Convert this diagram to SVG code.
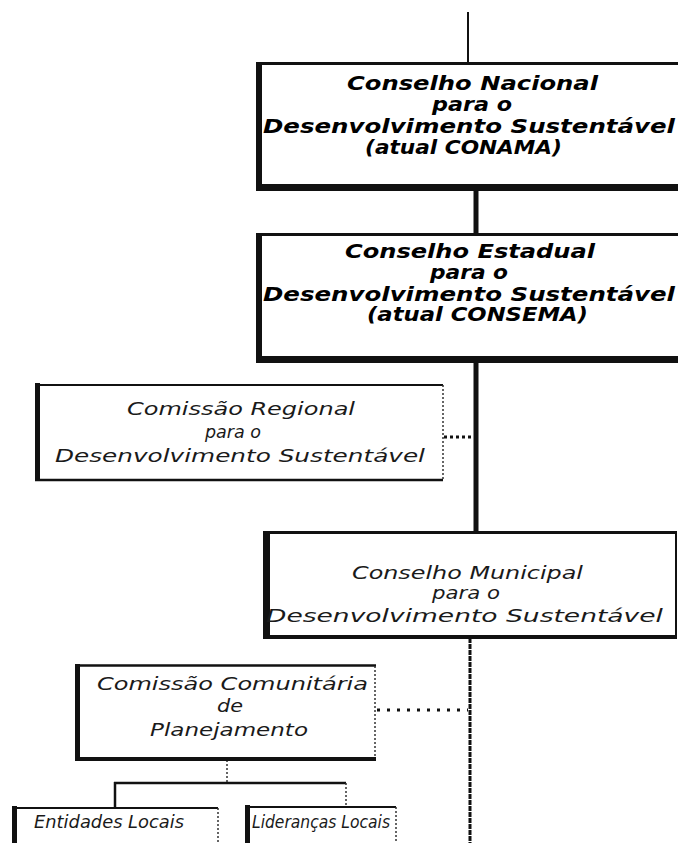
<svg xmlns="http://www.w3.org/2000/svg" width="678" height="843" viewBox="0 0 678 843">
<style>
.bg{fill:#fff}
.bd{fill:#111}
.t1{font-family:"DejaVu Sans","Liberation Sans",sans-serif;font-style:italic;font-weight:bold;font-size:19px;fill:#000}
.t2{font-family:"DejaVu Sans","Liberation Sans",sans-serif;font-style:italic;font-size:17px;fill:#1a1a1a}
.ln{stroke:#111;fill:none}
.dash{stroke:#333;fill:none;stroke-dasharray:2 2}
</style>
<rect x="0" y="0" width="678" height="843" fill="#fff"/>
<g id="connectors">
<line class="ln" x1="468" y1="12" x2="468" y2="63" stroke-width="2"/>
<line class="ln" x1="476" y1="190" x2="476" y2="234" stroke-width="5"/>
<line class="ln" x1="476" y1="362" x2="476" y2="532" stroke-width="5"/>
<line class="ln" x1="444" y1="437" x2="474" y2="437" stroke-width="3" stroke-dasharray="3 3"/>
<line class="ln" x1="470" y1="638" x2="470" y2="843" stroke-width="3" stroke-dasharray="5 1"/>
<line class="ln" x1="377" y1="710" x2="468" y2="710" stroke-width="3" stroke-dasharray="3 7"/>
<line class="dash" x1="227" y1="760" x2="227" y2="783" stroke-width="1.5"/>
<line class="ln" x1="114" y1="783" x2="346" y2="783" stroke-width="2.5"/>
<line class="ln" x1="115" y1="782" x2="115" y2="807" stroke-width="2.5"/>
<line class="dash" x1="346" y1="783" x2="346" y2="807" stroke-width="1.5"/>
</g>
<g id="nacional">
<rect class="bd" x="256" y="62" width="440" height="129"/>
<rect class="bg" x="262" y="65" width="434" height="119"/>
<text class="t1" x="347" y="90" textLength="251" lengthAdjust="spacingAndGlyphs">Conselho Nacional</text>
<text class="t1" x="432" y="111" textLength="80" lengthAdjust="spacingAndGlyphs">para o</text>
<text class="t1" x="263" y="133" textLength="412" lengthAdjust="spacingAndGlyphs">Desenvolvimento Sustentável</text>
<text class="t1" x="365" y="154" textLength="197" lengthAdjust="spacingAndGlyphs">(atual CONAMA)</text>
</g>
<g id="estadual">
<rect class="bd" x="256" y="233" width="440" height="130"/>
<rect class="bg" x="262" y="236" width="434" height="120"/>
<text class="t1" x="345" y="258" textLength="250" lengthAdjust="spacingAndGlyphs">Conselho Estadual</text>
<text class="t1" x="430" y="279" textLength="78" lengthAdjust="spacingAndGlyphs">para o</text>
<text class="t1" x="263" y="301" textLength="412" lengthAdjust="spacingAndGlyphs">Desenvolvimento Sustentável</text>
<text class="t1" x="367" y="321" textLength="221" lengthAdjust="spacingAndGlyphs">(atual CONSEMA)</text>
</g>
<g id="regional">
<rect class="bg" x="38" y="385" width="405" height="93"/>
<line class="ln" x1="35" y1="385" x2="443" y2="385" stroke-width="2"/>
<line class="ln" x1="37.5" y1="383" x2="37.5" y2="481" stroke-width="5"/>
<line class="ln" x1="35" y1="480" x2="443" y2="480" stroke-width="2.5"/>
<line class="dash" x1="443" y1="385" x2="443" y2="479" stroke-width="1.5"/>
<text class="t2" x="127" y="415" textLength="228" lengthAdjust="spacingAndGlyphs">Comissão Regional</text>
<text class="t2" x="205" y="438" textLength="56" lengthAdjust="spacingAndGlyphs">para o</text>
<text class="t2" x="55" y="462" textLength="370" lengthAdjust="spacingAndGlyphs">Desenvolvimento Sustentável</text>
</g>
<g id="municipal">
<rect class="bd" x="263" y="531" width="414" height="108"/>
<rect class="bg" x="270" y="534" width="405" height="101"/>
<text class="t2" x="352" y="579" font-size="16" textLength="231" lengthAdjust="spacingAndGlyphs">Conselho Municipal</text>
<text class="t2" x="432" y="599" font-size="16" textLength="68" lengthAdjust="spacingAndGlyphs">para o</text>
<text class="t2" x="266" y="622" font-size="16" textLength="397" lengthAdjust="spacingAndGlyphs">Desenvolvimento Sustentável</text>
</g>
<g id="comunitaria">
<rect class="bg" x="78" y="665" width="297" height="93"/>
<line class="ln" x1="75" y1="665.5" x2="376" y2="665.5" stroke-width="2.5"/>
<line class="ln" x1="77.5" y1="664" x2="77.5" y2="761" stroke-width="5"/>
<line class="ln" x1="75" y1="759" x2="376" y2="759" stroke-width="4"/>
<line class="dash" x1="375" y1="666" x2="375" y2="757" stroke-width="1.5"/>
<text class="t2" x="97" y="690" font-size="19" textLength="271" lengthAdjust="spacingAndGlyphs">Comissão Comunitária</text>
<text class="t2" x="217" y="712" font-size="19" textLength="26" lengthAdjust="spacingAndGlyphs">de</text>
<text class="t2" x="150" y="736" font-size="19" textLength="158" lengthAdjust="spacingAndGlyphs">Planejamento</text>
</g>
<g id="entidades">
<line class="ln" x1="12" y1="808" x2="218" y2="808" stroke-width="2"/>
<line class="ln" x1="14.5" y1="806" x2="14.5" y2="843" stroke-width="5"/>
<line class="dash" x1="218" y1="808" x2="218" y2="843" stroke-width="1.5"/>
<text class="t2" x="34" y="828" font-size="15" textLength="150" lengthAdjust="spacingAndGlyphs">Entidades Locais</text>
</g>
<g id="liderancas">
<line class="ln" x1="245" y1="807" x2="396" y2="807" stroke-width="2"/>
<line class="ln" x1="247.5" y1="805" x2="247.5" y2="843" stroke-width="5"/>
<line class="dash" x1="396" y1="807" x2="396" y2="843" stroke-width="1.5"/>
<text class="t2" x="252" y="828" font-size="15" textLength="138" lengthAdjust="spacingAndGlyphs">Lideranças Locais</text>
</g>
</svg>
